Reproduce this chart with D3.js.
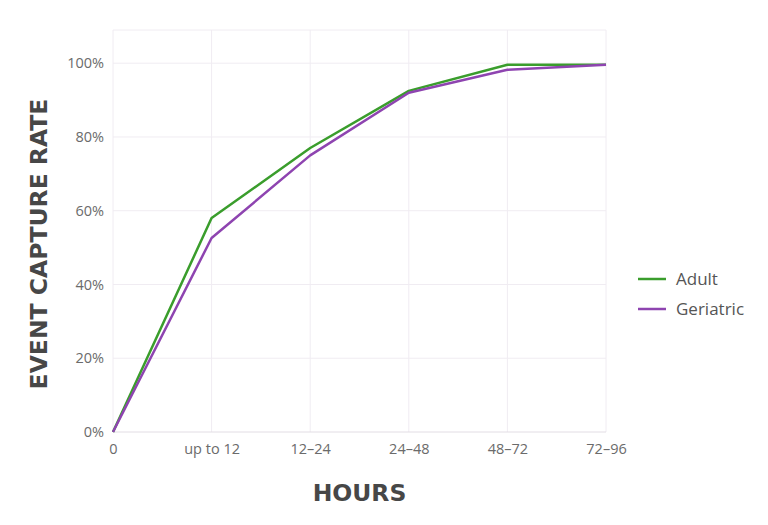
<!DOCTYPE html>
<html>
<head>
<meta charset="utf-8">
<script src="https://cdn.jsdelivr.net/npm/d3@7"></script>
<style>
  body { margin: 0; background: #fff; }
  text { font-family: "Open Sans", Lato, sans-serif; }
</style>
</head>
<body>
<script>
const measurements = {
    width: 768,
    height: 525
}

// data
const categories = ['0', 'up to 12', '12\u201324', '24\u201348', '48\u201372', '72\u201396']
const adult = [0, 58, 77, 92.5, 99.6, 99.6]
const geriatric = [0, 52.6, 75, 92, 98.2, 99.6]
const yTicks = [0, 20, 40, 60, 80, 100]
const seriesNames = ['Adult', 'Geriatric']
const colors = ['#3a9d2c', '#8e44b0']

const margin = { left: 113, right: 162, top: 30, bottom: 93 }

const svg = d3.select('body').append('svg')
    .attr('width', measurements.width)
    .attr('height', measurements.height)

const x = d3.scalePoint()
    .domain(categories)
    .range([margin.left, measurements.width - margin.right])

const y = d3.scaleLinear()
    .domain([0, 109])
    .range([measurements.height - margin.bottom, margin.top])

// grid
const grid = svg.append('g')
grid.selectAll('.vgrid')
    .data(categories)
    .enter()
    .append('line')
    .attr('x1', d => x(d)).attr('x2', d => x(d))
    .attr('y1', y(0)).attr('y2', y(109))
    .attr('stroke', '#f0ecf2')
    .attr('stroke-width', 1)

grid.selectAll('.hgrid')
    .data(yTicks.concat([109]))
    .enter()
    .append('line')
    .attr('x1', x(categories[0])).attr('x2', x(categories[categories.length - 1]))
    .attr('y1', d => y(d)).attr('y2', d => y(d))
    .attr('stroke', d => d === 0 ? '#e2dde4' : '#f0ecf2')
    .attr('stroke-width', 1)

// axes
const xAxis = svg.append('g')
    .attr('transform', `translate(0,${y(0)})`)
    .call(d3.axisBottom(x).tickSize(0).tickPadding(12))
xAxis.select('.domain').remove()
xAxis.selectAll('text')
    .attr('fill', '#6b6b6b')
    .style('font-size', '14.5px')
    .style('font-family', '"Open Sans", sans-serif')

const yAxis = svg.append('g')
    .attr('transform', `translate(${margin.left},0)`)
    .call(d3.axisLeft(y).tickValues(yTicks).tickFormat(d => d + '%').tickSize(0).tickPadding(9))
yAxis.select('.domain').remove()
yAxis.selectAll('text')
    .attr('fill', '#6b6b6b')
    .style('font-size', '14.5px')
    .style('font-family', '"Open Sans", sans-serif')

// axis titles
svg.append('text')
    .attr('x', (x(categories[0]) + x(categories[categories.length - 1])) / 2)
    .attr('y', 501)
    .attr('text-anchor', 'middle')
    .attr('fill', '#474747')
    .style('font-family', '"DejaVu Sans", sans-serif')
    .style('font-size', '23.5px')
    .style('font-weight', 'bold')
    .text('HOURS')

svg.append('text')
    .attr('transform', `translate(47,244) rotate(-90)`)
    .attr('text-anchor', 'middle')
    .attr('fill', '#474747')
    .style('font-family', '"DejaVu Sans", sans-serif')
    .style('font-size', '23.5px')
    .style('font-weight', 'bold')
    .text('EVENT CAPTURE RATE')

// lines
const line = d3.line()
    .x((d, i) => x(categories[i]))
    .y(d => y(d))

const series = [adult, geriatric]
svg.selectAll('.series')
    .data(series)
    .enter()
    .append('path')
    .attr('d', d => line(d))
    .attr('fill', 'none')
    .attr('stroke', (d, i) => colors[i])
    .attr('stroke-width', 2.5)
    .attr('stroke-linejoin', 'round')

// legend
const legend = svg.selectAll('.legend')
    .data(seriesNames)
    .enter()
    .append('g')
    .attr('transform', (d, i) => `translate(638,${279 + i * 30})`)

legend.append('line')
    .attr('x1', 0).attr('x2', 28)
    .attr('stroke', (d, i) => colors[i])
    .attr('stroke-width', 2.5)

legend.append('text')
    .attr('x', 38)
    .attr('dy', '0.35em')
    .attr('fill', '#555')
    .style('font-size', '17px')
    .text(d => d)
</script>
</body>
</html>
